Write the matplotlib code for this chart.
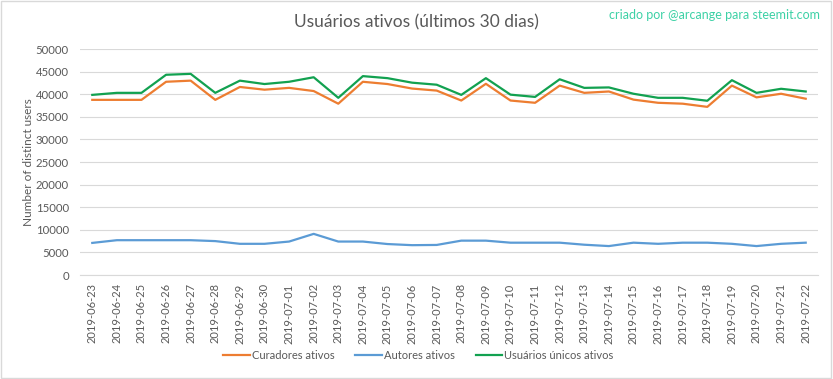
import matplotlib
matplotlib.use("Agg")
from matplotlib import pyplot as plt
from matplotlib.patches import Rectangle

plt.rcParams['font.family'] = ['Lato', 'DejaVu Sans']

datas = ["2019-06-23", "2019-06-24", "2019-06-25", "2019-06-26", "2019-06-27",
         "2019-06-28", "2019-06-29", "2019-06-30", "2019-07-01", "2019-07-02",
         "2019-07-03", "2019-07-04", "2019-07-05", "2019-07-06", "2019-07-07",
         "2019-07-08", "2019-07-09", "2019-07-10", "2019-07-11", "2019-07-12",
         "2019-07-13", "2019-07-14", "2019-07-15", "2019-07-16", "2019-07-17",
         "2019-07-18", "2019-07-19", "2019-07-20", "2019-07-21", "2019-07-22"]

# valores
curadores = [38750, 38750, 38750, 42750, 43000, 38750, 41600, 41000, 41400, 40700,
             37900, 42750, 42250, 41250, 40800, 38600, 42300, 38600, 38100, 41900,
             40300, 40600, 38800, 38100, 37900, 37200, 41900, 39300, 40100, 39000]
autores = [7100, 7700, 7700, 7700, 7700, 7500, 6900, 6900, 7400, 9100,
           7400, 7400, 6850, 6600, 6650, 7600, 7600, 7150, 7150, 7150,
           6700, 6400, 7150, 6900, 7150, 7150, 6900, 6400, 6900, 7150]
unicos = [39850, 40300, 40300, 44300, 44500, 40300, 43000, 42250, 42750, 43750,
          39200, 44000, 43550, 42550, 42100, 39850, 43550, 39900, 39400, 43300,
          41400, 41500, 40100, 39200, 39200, 38550, 43100, 40300, 41200, 40600]

cinza = "#595959"

fig = plt.figure(figsize=(8.33, 3.79), dpi=100)
ax = fig.add_axes([0.096, 0.2744, 0.886, 0.5963])

x = list(range(len(datas)))
ax.plot(x, curadores, color="#ED7D31", lw=1.6, label="Curadores ativos")
ax.plot(x, autores, color="#5B9BD5", lw=1.6, label="Autores ativos")
ax.plot(x, unicos, color="#12A150", lw=1.6, label="Usuários únicos ativos")

ax.set_xlim(-0.5, len(datas) - 0.5)
ax.set_ylim(0, 50000)
ax.set_yticks(range(0, 50001, 5000))
ax.set_xticks(x)
ax.set_xticklabels(datas, rotation=90)
ax.tick_params(axis="both", length=0, colors=cinza)
ax.tick_params(axis="x", pad=6, labelsize=8)
ax.tick_params(axis="y", pad=8, labelsize=8.2)
ax.grid(axis="y", color="#d9d9d9", lw=0.8)
ax.set_axisbelow(True)
for s in ["top", "right", "left"]:
    ax.spines[s].set_visible(False)
ax.spines["bottom"].set_color("#d9d9d9")

ax.set_ylabel("Number of distinct users", color=cinza, fontsize=8.5, labelpad=1)

fig.text(0.5, 0.942, "Usuários ativos (últimos 30 dias)", ha="center", va="center",
         color=cinza, fontsize=12.5)
fig.text(0.984, 0.96, "criado por @arcange para steemit.com", ha="right", va="center",
         color="#3DD1A6", fontsize=9)

fig.legend(loc="center", bbox_to_anchor=(0.502, 0.061), ncol=3, frameon=False,
           fontsize=8, labelcolor=cinza, handlelength=2.4, handletextpad=0.15,
           columnspacing=1.9)

fig.patches.append(Rectangle((0.001, 0.002), 0.997, 0.995, transform=fig.transFigure,
                             fill=False, edgecolor="#d9d9d9", lw=1))

plt.savefig("out.png", dpi=100)
